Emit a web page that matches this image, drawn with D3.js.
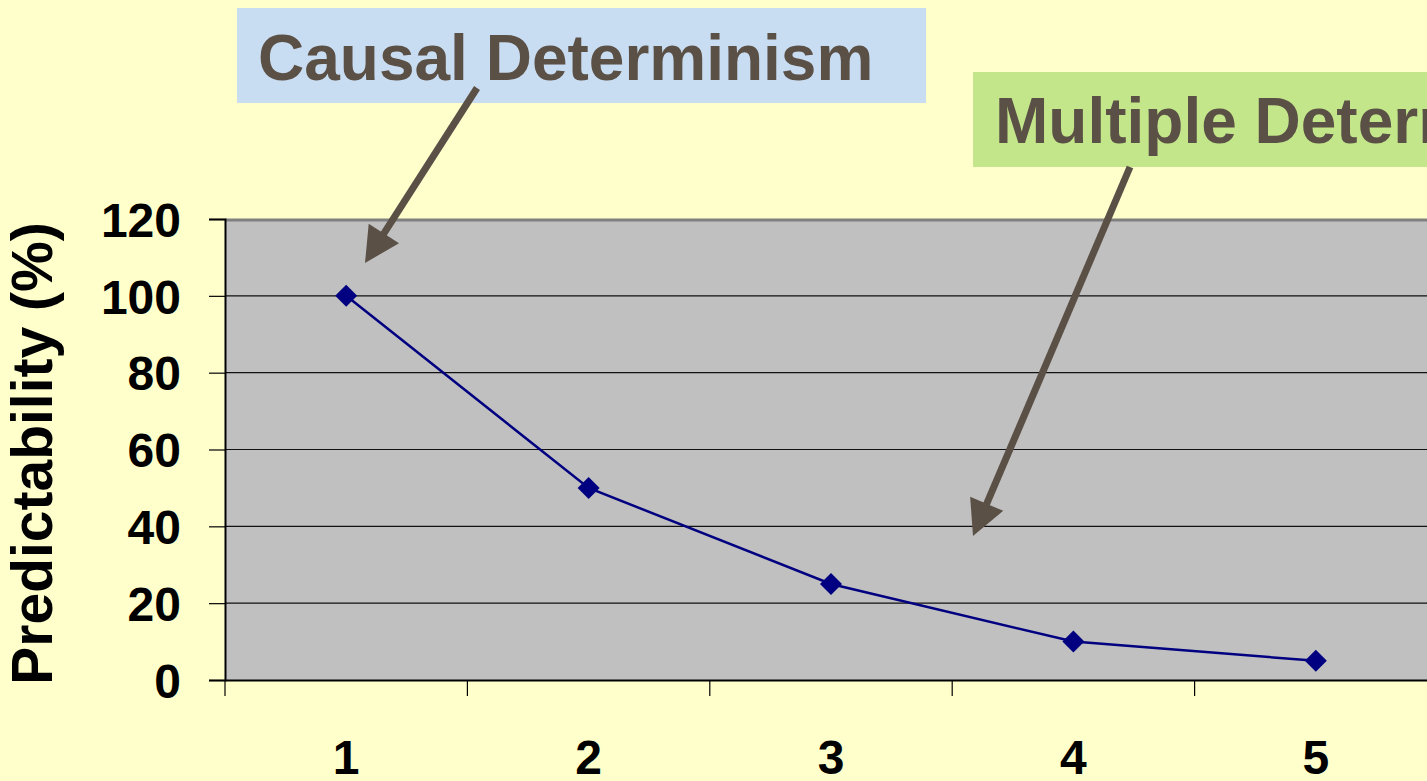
<!DOCTYPE html>
<html>
<head>
<meta charset="utf-8">
<script src="https://cdn.jsdelivr.net/npm/d3@7"></script>
<style>
  html, body { margin: 0; padding: 0; background: #FFFFCC; overflow: hidden; }
  svg { display: block; font-family: Arial, "Liberation Sans", sans-serif; }
</style>
</head>
<body>
<div id="chart"></div>
<script>
// data
var categories = ["1", "2", "3", "4", "5"];
var predictability = [100, 50, 25, 10, 5];
var yTicks = [0, 20, 40, 60, 80, 100, 120];
var yTitle = "Predictability (%)";

// annotation boxes and their arrows (screen layout)
var boxLabels = ["Causal Determinism", "Multiple Determinism"];
var boxColors = ["#C9DDF2", "#C3E68A"];

var W = 1427, H = 781;
var textColor = "#5B5046";

// plot area: bands are 242.4px wide, last one runs past the window edge
var plotLeft = 225, plotTop = 219, plotBottom = 680;
var bandW = 242.4;
var plotRight = plotLeft + bandW * categories.length;

var svg = d3.select("#chart").append("svg")
  .attr("width", W)
  .attr("height", H);

svg.append("rect")
  .attr("width", W).attr("height", H)
  .attr("fill", "#FFFFCC");

var x = d3.scaleBand()
  .domain(categories)
  .range([plotLeft, plotRight]);

var y = d3.scaleLinear()
  .domain([0, 120])
  .range([plotBottom, plotTop]);

// gray plot area
svg.append("rect")
  .attr("x", plotLeft).attr("y", plotTop)
  .attr("width", plotRight - plotLeft)
  .attr("height", plotBottom - plotTop)
  .attr("fill", "#C0C0C0");

// gridlines
svg.append("g")
  .selectAll("line")
  .data(yTicks.filter(function (d) { return d > 0 && d < 120; }))
  .join("line")
  .attr("x1", plotLeft).attr("x2", plotRight)
  .attr("y1", function (d) { return y(d); })
  .attr("y2", function (d) { return y(d); })
  .attr("stroke", "#111")
  .attr("stroke-width", 1.2);

// top border of plot area
svg.append("line")
  .attr("x1", plotLeft).attr("x2", plotRight)
  .attr("y1", plotTop + 1).attr("y2", plotTop + 1)
  .attr("stroke", "#808080")
  .attr("stroke-width", 3);

// y axis
var yAxis = d3.axisLeft(y)
  .tickValues(yTicks)
  .tickSize(16)
  .tickPadding(28);

var yG = svg.append("g")
  .attr("transform", "translate(" + plotLeft + ",0)")
  .call(yAxis);
yG.select(".domain").attr("stroke", "#000").attr("stroke-width", 2);
yG.selectAll(".tick line").attr("stroke", "#000").attr("stroke-width", 1.2);
yG.selectAll(".tick text")
  .attr("fill", "#000")
  .attr("font-size", 48)
  .attr("font-weight", "bold")
  .attr("font-family", "Arial, 'Liberation Sans', sans-serif")
  .attr("dy", "0.36em");

// x axis
var xAxis = d3.axisBottom(x)
  .tickSize(0)
  .tickPadding(77);

var xG = svg.append("g")
  .attr("transform", "translate(0," + plotBottom + ")")
  .call(xAxis);
xG.select(".domain").attr("stroke", "#000").attr("stroke-width", 2);
xG.selectAll(".tick text")
  .attr("fill", "#000")
  .attr("font-size", 48)
  .attr("font-weight", "bold")
  .attr("font-family", "Arial, 'Liberation Sans', sans-serif")
  .attr("dy", "0.35em");

// band-edge tick marks below the axis
svg.append("g")
  .selectAll("line")
  .data(categories)
  .join("line")
  .attr("x1", function (d) { return x(d); })
  .attr("x2", function (d) { return x(d); })
  .attr("y1", plotBottom).attr("y2", plotBottom + 16)
  .attr("stroke", "#000")
  .attr("stroke-width", 1.2);

// axis title
svg.append("text")
  .attr("transform", "translate(52," + (plotTop + plotBottom + 8) / 2 + ") rotate(-90)")
  .attr("text-anchor", "middle")
  .attr("font-size", 57)
  .attr("font-weight", "bold")
  .attr("fill", "#000")
  .text(yTitle);

// series line
var pts = categories.map(function (c, i) { return [x(c) + x.bandwidth() / 2, y(predictability[i])]; });

svg.append("path")
  .attr("d", d3.line()(pts))
  .attr("fill", "none")
  .attr("stroke", "#000080")
  .attr("stroke-width", 2.5);

svg.append("g")
  .selectAll("path")
  .data(pts)
  .join("path")
  .attr("transform", function (d) { return "translate(" + d[0] + "," + d[1] + ")"; })
  .attr("d", "M0,-11L11,0L0,11L-11,0Z")
  .attr("fill", "#000080");

// annotation boxes
var boxes = [
  {x: 237, y: 8, w: 689, h: 95, tx: 258, ty: 80},
  {x: 973, y: 72, w: 480, h: 95, tx: 995, ty: 143}
];

boxes.forEach(function (b, i) {
  svg.append("rect")
    .attr("x", b.x).attr("y", b.y)
    .attr("width", b.w).attr("height", b.h)
    .attr("fill", boxColors[i]);
  svg.append("text")
    .attr("x", b.tx).attr("y", b.ty)
    .attr("font-size", 64)
    .attr("font-weight", "bold")
    .attr("fill", textColor)
    .text(boxLabels[i]);
});

// arrows: start -> tip
var arrows = [
  {x1: 477, y1: 88, x2: 365, y2: 263},
  {x1: 1130, y1: 167, x2: 973, y2: 536}
];
var headLen = 35, headHalf = 18;

arrows.forEach(function (a) {
  var dx = a.x2 - a.x1, dy = a.y2 - a.y1;
  var len = Math.sqrt(dx * dx + dy * dy);
  var ux = dx / len, uy = dy / len;
  var bx = a.x2 - ux * headLen, by = a.y2 - uy * headLen;
  svg.append("line")
    .attr("x1", a.x1).attr("y1", a.y1)
    .attr("x2", bx + ux * 4).attr("y2", by + uy * 4)
    .attr("stroke", textColor)
    .attr("stroke-width", 7);
  svg.append("path")
    .attr("d", "M" + a.x2 + "," + a.y2 +
      "L" + (bx - uy * headHalf) + "," + (by + ux * headHalf) +
      "L" + (bx + uy * headHalf) + "," + (by - ux * headHalf) + "Z")
    .attr("fill", textColor);
});
</script>
</body>
</html>
